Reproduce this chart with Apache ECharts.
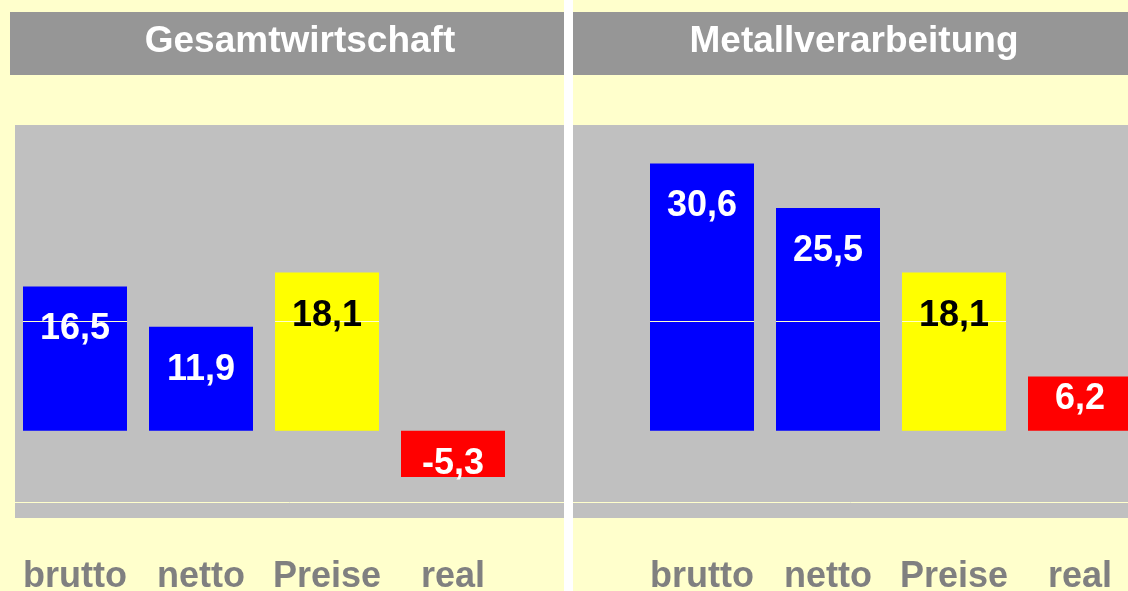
<!DOCTYPE html>
<html>
<head>
<meta charset="utf-8">
<script src="https://cdn.jsdelivr.net/npm/echarts@6/dist/echarts.min.js"></script>
<style>
    html, body { margin: 0; padding: 0; background: #FFFFCC; }
    #chart { width: 1128px; height: 591px; }
</style>
</head>
<body>
<div id="chart"></div>
<script>
    // Daten
    const categories = ['brutto', 'netto', 'Preise', 'real'];
    const panelTitles = ['Gesamtwirtschaft', 'Metallverarbeitung'];
    const gesamtValues = [16.5, 11.9, 18.1, -5.3];
    const metallValues = [30.6, 25.5, 18.1, 6.2];
    const yRange = [-10, 35];
    const innerLineValue = 12.5;
    const baseLineValue = -8.2;

    const FONT = '"Liberation Sans", Arial, sans-serif';
    const barColors = ['#0000FF', '#0000FF', '#FFFF00', '#FF0000'];
    const labelColors = ['#FFFFFF', '#FFFFFF', '#000000', '#FFFFFF'];
    const BAR_W = 104;

    // Panel-Layout
    const panels = [
        { grid: { left: 12, top: 125, width: 504, height: 393 }, bg: [15, 549], head: [10, 554], titleX: 300 },
        { grid: { left: 639, top: 125, width: 504, height: 393 }, bg: [573, 555], head: [573, 555], titleX: 854 }
    ];
    const panelValues = [gesamtValues, metallValues];

    function fmt(v) {
        return v.toFixed(1).replace('.', ',');
    }

    // Balken ohne Beschriftung
    function barData(values) {
        return values.map((v, i) => ({ value: v, itemStyle: { color: barColors[i] } }));
    }

    // unsichtbare Balken nur für die Beschriftung (liegen über der hellen Linie)
    function labelData(values) {
        return values.map((v, i) => {
            const big = Math.abs(v) >= 10;
            return {
                value: v,
                label: big
                    ? { position: 'insideTop', distance: 25, color: labelColors[i] }
                    : { position: 'inside', offset: [0, v > 0 ? -5 : 10], color: labelColors[i] }
            };
        });
    }

    const graphic = [];
    panels.forEach((p, i) => {
        graphic.push({ type: 'rect', z: 0, shape: { x: p.bg[0], y: 125, width: p.bg[1], height: 393 }, style: { fill: '#C0C0C0' } });
        graphic.push({ type: 'rect', z: 0, shape: { x: p.head[0], y: 12, width: p.head[1], height: 63 }, style: { fill: '#969696' } });
        graphic.push({
            type: 'text', z: 10, x: p.titleX, y: 42,
            style: { text: panelTitles[i], fill: '#FFFFFF', font: 'bold 37px ' + FONT, textAlign: 'center', textVerticalAlign: 'middle' }
        });
    });
    graphic.push({ type: 'rect', z: 0, shape: { x: 564, y: 0, width: 9, height: 591 }, style: { fill: '#FFFFFF' } });

    const series = [];
    panels.forEach((p, i) => {
        const vals = panelValues[i];
        series.push({
            type: 'bar',
            xAxisIndex: i,
            yAxisIndex: i,
            barWidth: BAR_W,
            barGap: '-100%',
            clip: false,
            z: 2,
            data: barData(vals),
            markLine: {
                silent: true,
                symbol: ['none', 'none'],
                label: { show: false },
                lineStyle: { color: '#FFFFCC', width: 1, type: 'solid' },
                data: [[
                    { yAxis: baseLineValue, x: p.bg[0] },
                    { yAxis: baseLineValue, x: p.bg[0] + p.bg[1] }
                ]]
            }
        });
        // helle Linie quer durch die hohen Balken
        series.push({
            type: 'custom',
            xAxisIndex: i,
            yAxisIndex: i,
            z: 5,
            silent: true,
            data: vals.map((v, k) => [k, v]),
            renderItem(params, api) {
                if (api.value(1) <= innerLineValue) return null;
                const pt = api.coord([api.value(0), innerLineValue]);
                return {
                    type: 'line',
                    shape: { x1: pt[0] - BAR_W / 2, y1: pt[1], x2: pt[0] + BAR_W / 2, y2: pt[1] },
                    style: { stroke: '#FFFFCC', lineWidth: 1 }
                };
            }
        });
        series.push({
            type: 'bar',
            xAxisIndex: i,
            yAxisIndex: i,
            barWidth: BAR_W,
            barGap: '-100%',
            clip: false,
            z: 10,
            silent: true,
            itemStyle: { color: 'rgba(0,0,0,0)' },
            data: labelData(vals),
            label: {
                show: true,
                fontSize: 36,
                fontWeight: 'bold',
                fontFamily: FONT,
                formatter: d => fmt(d.value)
            }
        });
    });

    const chart = echarts.init(document.getElementById('chart'));
    chart.setOption({
        animation: false,
        backgroundColor: '#FFFFCC',
        graphic: graphic,
        grid: panels.map(p => Object.assign({ outerBoundsMode: 'none', containLabel: false }, p.grid)),
        xAxis: panels.map((p, i) => ({
            type: 'category',
            gridIndex: i,
            data: categories,
            position: 'bottom',
            axisLine: { show: false, onZero: false },
            axisTick: { show: false },
            axisLabel: {
                interval: 0,
                margin: 41,
                color: '#808080',
                fontSize: 36,
                fontWeight: 'bold',
                fontFamily: FONT
            }
        })),
        yAxis: panels.map((p, i) => ({
            type: 'value',
            gridIndex: i,
            min: yRange[0],
            max: yRange[1],
            show: false
        })),
        series: series
    });
</script>
</body>
</html>
